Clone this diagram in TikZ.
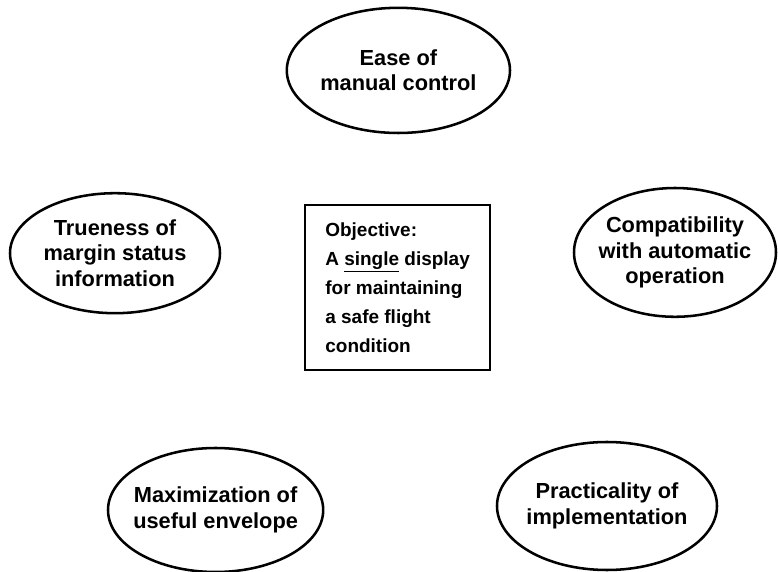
\documentclass[tikz,border=0pt]{standalone}
\usepackage{fontspec}
\setmainfont{Liberation Sans}
\usetikzlibrary{shapes.geometric}
\begin{document}
\begin{tikzpicture}[
  goal/.style={ellipse, draw, line width=1.8pt, inner xsep=-1.5cm, inner ysep=-0.5cm,
    align=center, font=\bfseries\fontsize{15.5}{18}\selectfont},
  box/.style={rectangle, draw, line width=1.4pt, align=left,
    minimum width=4.62cm, minimum height=4.12cm,
    font=\bfseries\fontsize{13.5}{20.5}\selectfont}
]
\useasboundingbox (0,0) rectangle (19.45,-14.3);

\node[goal, minimum width=5.58cm, minimum height=3.13cm] (ease) at (9.96,-1.76) {Ease of\\manual control};
\node[goal, minimum width=5.25cm, minimum height=3.0cm] (trueness) at (2.875,-6.33) {Trueness of\\margin status\\information};
\node[goal, minimum width=5.05cm, minimum height=3.22cm] (compat) at (16.875,-6.31) {Compatibility\\with automatic\\operation};
\node[box] (objective) at (9.94,-7.19) {Objective:\\A \underline{single} display\\for maintaining\\a safe flight\\condition};
\node[goal, minimum width=5.38cm, minimum height=3.1cm] (maxim) at (5.39,-12.75) {Maximization of\\useful envelope};
\node[goal, minimum width=5.5cm, minimum height=3.2cm] (practical) at (15.175,-12.65) {Practicality of\\implementation};
\end{tikzpicture}
\end{document}
